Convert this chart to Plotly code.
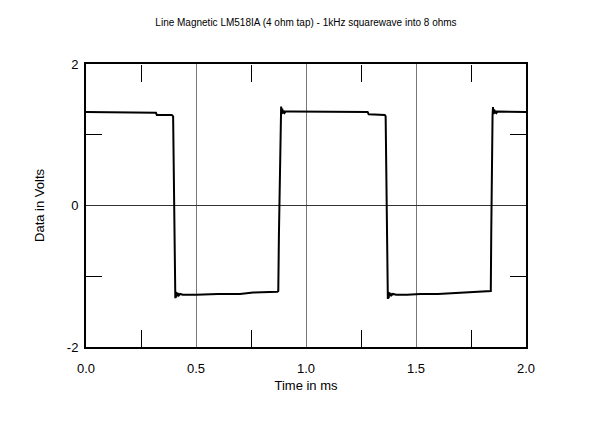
import plotly.graph_objects as go

title_text = "Line Magnetic LM518IA (4 ohm tap) - 1kHz squarewave into 8 ohms"
x_label = "Time in ms"
y_label = "Data in Volts"
x_ticks = [0.0, 0.5, 1.0, 1.5, 2.0]
x_tick_labels = ["0.0", "0.5", "1.0", "1.5", "2.0"]
x_minor_ticks = [0.25, 0.75, 1.25, 1.75]
y_ticks = [-2, 0, 2]
y_tick_labels = ["-2", "0", "2"]
y_minor_ticks = [-1, 1]

time_ms = [
    0.000, 0.020, 0.100, 0.160, 0.318, 0.322, 0.390, 0.396,
    0.398, 0.400, 0.402, 0.404, 0.406, 0.408, 0.410, 0.412, 0.415, 0.418, 0.422, 0.428, 0.440,
    0.500, 0.560, 0.600, 0.700, 0.760, 0.870, 0.874,
    0.877, 0.880, 0.883, 0.885, 0.887, 0.889, 0.892, 0.895, 0.899, 0.903, 0.908, 0.930,
    1.000, 1.100, 1.200, 1.280, 1.285, 1.358, 1.362,
    1.364, 1.366, 1.368, 1.370, 1.372, 1.374, 1.376, 1.378, 1.381, 1.384, 1.388, 1.395, 1.410,
    1.460, 1.520, 1.600, 1.660, 1.720, 1.830, 1.840,
    1.842, 1.844, 1.846, 1.848, 1.850, 1.852, 1.855, 1.858, 1.862, 1.866, 1.872, 1.890,
    1.950, 2.000,
]
volts = [
    1.32, 1.32, 1.32, 1.31, 1.31, 1.28, 1.28, 1.26,
    0.80, 0.00, -0.80, -1.15, -1.31, -1.22, -1.30, -1.23, -1.28, -1.24, -1.27, -1.25, -1.26,
    -1.26, -1.25, -1.25, -1.25, -1.23, -1.22, -1.21,
    -0.40, 0.40, 1.05, 1.28, 1.40, 1.29, 1.37, 1.30, 1.34, 1.31, 1.33, 1.33,
    1.33, 1.32, 1.32, 1.32, 1.29, 1.28, 1.26,
    0.80, 0.00, -0.80, -1.15, -1.32, -1.22, -1.31, -1.23, -1.28, -1.24, -1.27, -1.25, -1.26,
    -1.26, -1.25, -1.25, -1.24, -1.23, -1.22, -1.21,
    -0.40, 0.40, 1.05, 1.28, 1.39, 1.29, 1.36, 1.30, 1.34, 1.31, 1.33, 1.33,
    1.33, 1.32,
]

fig = go.Figure()
fig.add_trace(go.Scatter(x=time_ms, y=volts, mode="lines",
                         line=dict(color="black", width=2), showlegend=False))
# empty traces so the overlay tick axes are drawn
fig.add_trace(go.Scatter(x=[], y=[], xaxis="x2", yaxis="y2", showlegend=False, hoverinfo="skip"))
fig.add_trace(go.Scatter(x=[], y=[], xaxis="x3", yaxis="y3", showlegend=False, hoverinfo="skip"))

font_family = "Liberation Sans, Arial, sans-serif"
W, H = 592, 414
minor_tick_x = dict(
    range=[0, 2], overlaying="x", tickvals=x_minor_ticks, showticklabels=False,
    ticks="inside", ticklen=17, tickwidth=1, tickcolor="black",
    showgrid=False, zeroline=False, showline=False,
)
minor_tick_y = dict(
    range=[-2, 2], overlaying="y", tickvals=y_minor_ticks, showticklabels=False,
    ticks="inside", ticklen=16, tickwidth=1, tickcolor="black",
    showgrid=False, zeroline=False, showline=False,
)
fig.update_layout(
    width=W, height=H,
    margin=dict(l=78, r=74, t=56, b=75),
    paper_bgcolor="white", plot_bgcolor="white",
    title=dict(text=title_text, x=0.5, xanchor="center", xref="paper",
               y=1 - 14 / H, yanchor="middle",
               font=dict(family=font_family, size=10, color="black")),
    font=dict(family=font_family, color="black"),
    xaxis=dict(
        range=[0, 2], tickvals=x_ticks, ticktext=x_tick_labels,
        ticks="", showgrid=True, gridcolor="#777777", gridwidth=1,
        showline=True, linecolor="black", linewidth=2, mirror=True,
        zeroline=False, tickfont=dict(size=13), ticklabelstandoff=8,
        title=dict(text=x_label, font=dict(size=13), standoff=6),
    ),
    yaxis=dict(
        range=[-2, 2], tickvals=y_ticks, ticktext=y_tick_labels,
        ticks="", showgrid=True, gridcolor="#333333", gridwidth=1,
        showline=True, linecolor="black", linewidth=2, mirror=True,
        zeroline=False, tickfont=dict(size=13), ticklabelstandoff=3,
        title=dict(text=y_label, font=dict(size=13), standoff=19),
    ),
    xaxis2=dict(minor_tick_x, side="bottom", anchor="y2"),
    yaxis2=dict(minor_tick_y, side="left", anchor="x2"),
    xaxis3=dict(minor_tick_x, side="top", anchor="free", position=1.0),
    yaxis3=dict(minor_tick_y, side="right", anchor="free", position=1.0),
)

fig.write_html("out.html")
